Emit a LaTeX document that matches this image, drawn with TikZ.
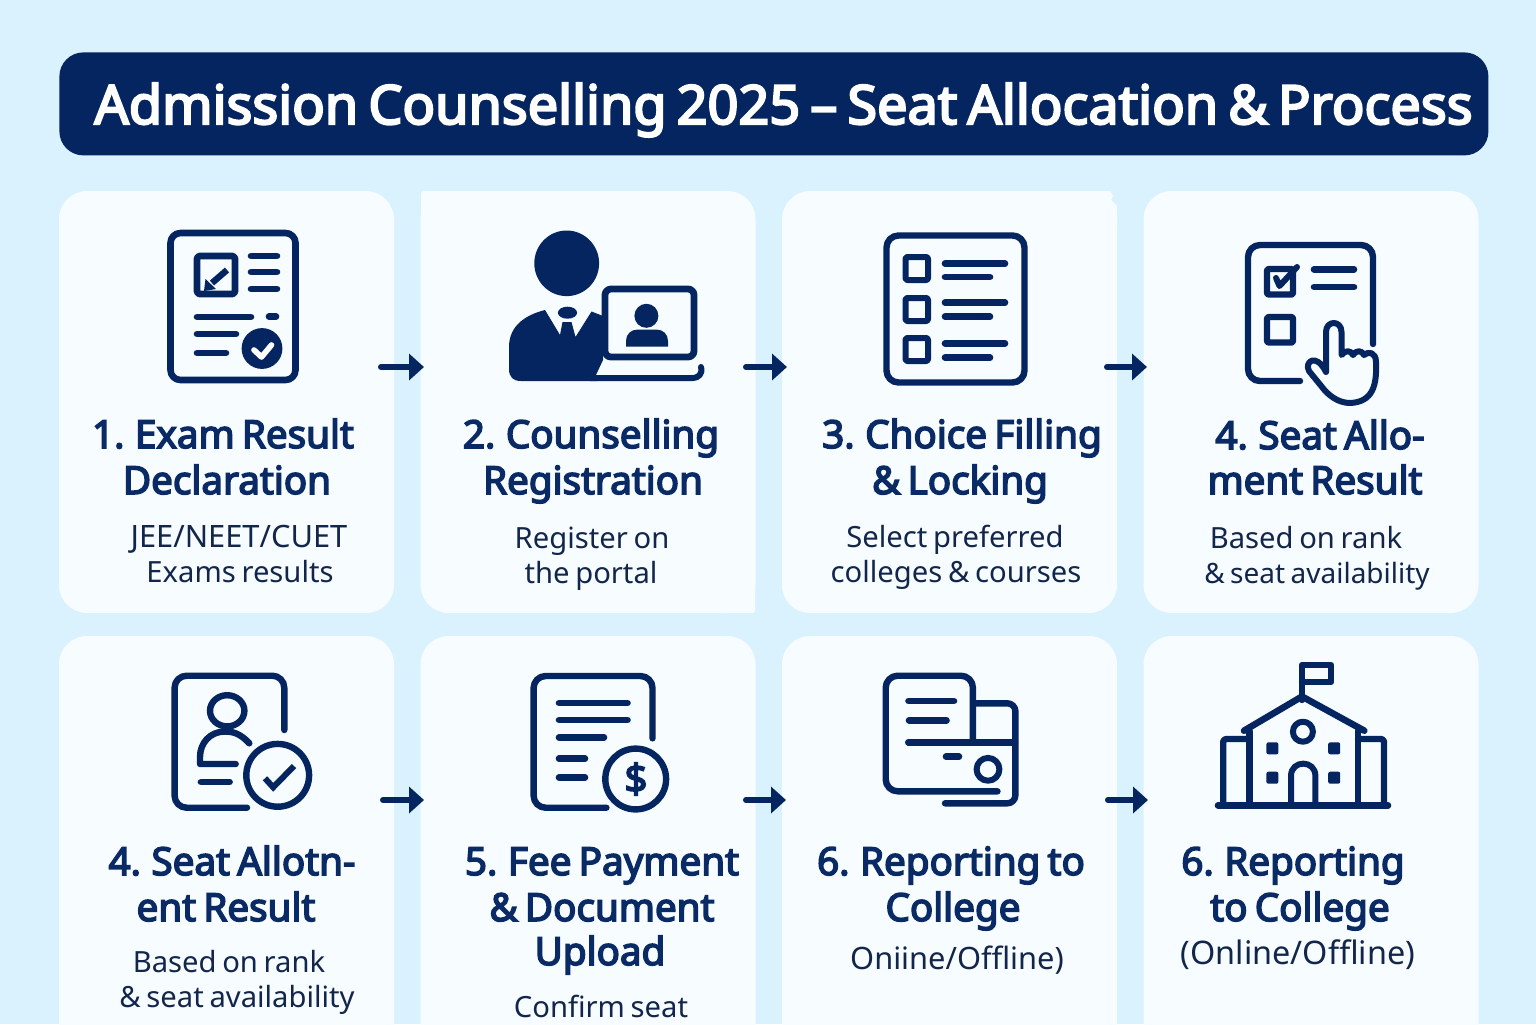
\documentclass[tikz,border=0pt]{standalone}
\usepackage{fontspec}
\setmainfont[WordSpace=0.75]{Noto Sans}
\newfontfamily\hfont[FakeBold=4,WordSpace=0.72]{Noto Sans}
\usetikzlibrary{arrows.meta,calc}
\definecolor{bgblue}{HTML}{D9F2FE}
\definecolor{cardw}{HTML}{F6FCFF}
\definecolor{navy}{HTML}{04255F}
\definecolor{headc}{HTML}{0A2A65}
\definecolor{descc}{HTML}{12254A}
\newcommand{\hsz}{\fontsize{19.3}{22}\selectfont}
\tikzset{
  x=0.5pt,y=-0.5pt,
  card/.style={fill=cardw,rounded corners=14pt,minimum width=167.5pt,inner sep=0pt,outer sep=0pt},
  ic/.style={draw=navy,line width=3.2pt,line cap=round,line join=round,rounded corners=0pt},
  bar/.style={draw=navy,line width=3.3pt,line cap=round},
  flow/.style={draw=navy,line width=3pt,line cap=round,-{Triangle[length=7.5pt,width=13pt]}},
  hd/.style={text=headc,anchor=base,inner sep=0pt,font=\hfont\hsz},
  ds/.style={text=descc,anchor=base,inner sep=0pt,font=\fontsize{#1}{18}\selectfont},
  ds/.default=14.6,
}
\begin{document}
\begin{tikzpicture}
\useasboundingbox (0,0) rectangle (1536,1024);
\clip (0,0) rectangle (1536,1024);
\fill[bgblue] (0,0) rectangle (1536,1024);
% title
\node[fill=navy,rounded corners=12pt,minimum width=714.5pt,minimum height=51.5pt,inner sep=0pt,anchor=north west] (titlebar) at (59,52) {};
\node[anchor=base,text=white,inner sep=0pt,font=\hfont\fontsize{27}{30}\selectfont] (title) at (783.5,124) {Admission Counselling 2025 – Seat Allocation \& Process};
% cards
\foreach \n/\cx in {1/226.5,2/588,3/949.5,4/1311}{
  \node[card,minimum height=211pt] (card\n) at (\cx,402) {};
}
\foreach \n/\cx in {5/226.5,6/588,7/949.5,8/1311}{
  \node[card,minimum height=280pt,anchor=north] (card\n) at (\cx,636) {};
}
\fill[cardw] (421,193) -- (423,191) -- (450,191) -- (450,220) -- (421,220) -- cycle;
\fill[cardw] (755,585) -- (755,611) -- (753,613) -- (725,613) -- (725,585) -- cycle;
\fill[cardw] (1090,191) -- (1110,191) -- (1113,196) -- (1111,200) -- (1117,206) -- (1117,225) -- (1090,225) -- cycle;
% arrows
\coordinate (a1s) at (381,367); \coordinate (a1e) at (424,367);
\coordinate (a2s) at (746,367); \coordinate (a2e) at (787,367);
\coordinate (a3s) at (1107,367); \coordinate (a3e) at (1147,367);
\coordinate (a4s) at (383,800); \coordinate (a4e) at (424,800);
\coordinate (a5s) at (746,800); \coordinate (a5e) at (786,800);
\coordinate (a6s) at (1108,800); \coordinate (a6e) at (1148,800);
\foreach \k in {1,...,6}{\draw[flow] (a\k s) -- (a\k e);}
%% icon 1
\draw[ic,line width=3.3pt,rounded corners=5pt] (170.5,233) rectangle (295.5,380);
\draw[ic,line width=3.4pt,rounded corners=1.5pt] (197,256) rectangle (235,294);
\draw[draw=navy,line width=3.2pt] (227,270) -- (212,283);
\fill[navy] (204,291) -- (205.5,279) -- (216,289) -- cycle;
\draw[bar] (251,256) -- (277,256) (251,272) -- (277,272) (251,289) -- (277,289);
\draw[bar] (197,317) -- (251,317) (269,316.5) -- (276,316.5);
\draw[bar] (197,334) -- (236,334) (197,353) -- (226,353);
\fill[navy] (262,348.5) circle (10.2pt);
\draw[draw=white,line width=2.8pt,line cap=round,line join=round] (254,350) -- (261.5,357) -- (271.5,345);
%% icon 2
\fill[navy] (566.7,263.3) ellipse (16.2pt and 16.4pt);
\fill[navy] (545,310) -- (560,335) -- (562.5,322) -- (571.5,322) -- (575.5,337) -- (591.5,311.5) -- (603,316) -- (603,360) -- (595.5,376) -- (597,381) -- (521,381)
  .. controls (513,381) and (509,377) .. (509,369) -- (509,347)
  .. controls (509,326) and (525,315) .. (545,310) -- cycle;
\fill[navy] (567.5,312.7) ellipse (4.8pt and 3pt);
\draw[ic,fill=cardw,rounded corners=3pt,line width=3.4pt] (605,289) rectangle (694,357);
\draw[ic,line width=3pt] (590,378) -- (693,378) .. controls (698,378) and (703,374) .. (701,367);
\fill[navy] (646.4,315.8) ellipse (6pt and 6pt);
\fill[navy] (626,346.7) -- (626,341) .. controls (626,334) and (631,329.5) .. (638,329.5) -- (656,329.5) .. controls (663,329.5) and (668,334) .. (668,341) -- (668,346.7) -- cycle;
%% icon 3
\draw[ic,rounded corners=6pt] (886.5,235.5) rectangle (1024.5,382.5);
\foreach \yy in {257,298,338}{
  \draw[ic,line width=3pt,rounded corners=1pt] (905.5,\yy) rectangle (928,\yy+23);
}
\draw[bar] (945,263.7) -- (1005,263.7) (945,277) -- (990,277) (945,302.7) -- (1005,302.7) (945,316.7) -- (990,316.7) (945,343.3) -- (1005,343.3) (945,357.7) -- (990,357.7);
%% icon 4
\draw[ic,rounded corners=6pt] (1373,344) -- (1373,245) -- (1248,245) -- (1248,381) -- (1300,381);
\draw[ic,rounded corners=1pt] (1267,269) rectangle (1293,294.5);
\draw[navy,line width=3pt,line cap=round,line join=round] (1276,278) -- (1279.5,286) -- (1297,267);
\draw[bar] (1314,269.3) -- (1354,269.3) (1314,287) -- (1354,287);
\draw[ic,rounded corners=1pt] (1267,317) rectangle (1293,342.5);
\draw[ic,line width=3pt,fill=cardw] (1326,372) -- (1326,332) .. controls (1326,320) and (1341.5,320) .. (1341.5,332) -- (1341.5,355)
  .. controls (1345,350) and (1351,350) .. (1353,355) .. controls (1356,350) and (1362,350) .. (1364,355) .. controls (1368,351) and (1376,352) .. (1376,362)
  .. controls (1377,385) and (1373,402) .. (1350,403) .. controls (1338,403) and (1328,395) .. (1322,387)
  -- (1309,371) .. controls (1304,362) and (1316,352) .. (1326,372);
%% icon 5
\draw[ic,rounded corners=6pt] (284.3,730) -- (284.3,675.7) -- (174.6,675.7) -- (174.6,807.7) -- (247,807.7);
\draw[ic] (227.2,710.8) ellipse (8.6pt and 7.8pt);
\draw[ic] (249.3,743.3) .. controls (240,733) and (232,731.5) .. (225,731.5) .. controls (210,731.5) and (200,743) .. (200,757) -- (200,764) -- (235.7,764);
\draw[bar,line width=3.4pt] (201,782) -- (229.5,782);
\draw[ic,fill=cardw] (277.7,775.3) circle (15.7pt);
\draw[draw=navy,line width=3pt,line join=miter] (265,778.3) -- (273.2,787.3) -- (294,766);
%% icon 6
\draw[ic,rounded corners=6pt] (652.5,738.3) -- (652.5,676) -- (533.6,676) -- (533.6,807.7) -- (606.4,807.7);
\draw[bar] (559,703) -- (627.5,703) (559,720) -- (627.5,720) (559,737.3) -- (604,737.3) (559,758.7) -- (585,758.7) (559,777.3) -- (585,777.3);
\draw[ic,fill=cardw] (635.7,779) circle (15.2pt);
\node[text=navy,inner sep=0pt,font=\hfont\fontsize{20}{20}\selectfont] (dollar) at (636,779) {\$};
%% icon 7
\draw[ic,rounded corners=6pt] (972.9,740) -- (972.9,675.7) -- (885.7,675.7) -- (885.7,791.3) -- (997.5,791.3);
\draw[bar] (908.5,701) -- (954,701) (909,720.3) -- (946.5,720.3);
\draw[ic,rounded corners=4pt] (976,703.3) -- (1015.4,703.3) -- (1015.4,803.3) -- (945,803.3);
\draw[ic] (908.2,742.3) -- (1015,742.3);
\draw[bar] (946,756.7) -- (959,756.7);
\draw[ic,line width=3pt] (988,769.3) circle (5.7pt);
%% icon 8
\draw[ic] (1302,700) -- (1302,665) -- (1331,665) -- (1331,682) -- (1302,682);
\draw[ic,line width=3.3pt] (1244,730.7) -- (1302,696.5) -- (1364.3,730.7);
\draw[ic] (1249.3,731) -- (1249.3,805) (1358,731) -- (1358,805);
\draw[ic,line join=round,rounded corners=1.5pt] (1223.2,805) -- (1223.2,739) -- (1249.3,739);
\draw[ic,rounded corners=1.5pt] (1358,739) -- (1384,739) -- (1384,805);
\draw[ic,line width=3pt] (1302.9,731.7) circle (5pt);
\foreach \xx in {1266.4,1328.2}{\foreach \yy in {742.3,771.7}{
  \fill[navy,rounded corners=1pt] (\xx,\yy) rectangle (\xx+12,\yy+12);
}}
\draw[ic,line width=3pt] (1291,805) -- (1291,776) .. controls (1291,759.5) and (1315.4,759.5) .. (1315.4,776) -- (1315.4,805);
\draw[bar] (1218,805.3) -- (1388,805.3);
%% text row 1
\node[hd] (t1a) at (223,448) {1. Exam Result};
\node[hd] (t1b) at (227,494) {Declaration};
\node[ds=15.4] (d1a) at (239,547) {JEE/NEET/CUET};
\node[ds] (d1b) at (240,582) {Exams results};
\node[hd] (t2a) at (591,448) {2. Counselling};
\node[hd] (t2b) at (593,494) {Registration};
\node[ds] (d2a) at (592,548) {Register on};
\node[ds] (d2b) at (591,583) {the portal};
\node[hd] (t3a) at (962,448) {3. Choice Filling};
\node[hd] (t3b) at (960,494) {\& Locking};
\node[ds] (d3a) at (955,547) {Select preferred};
\node[ds] (d3b) at (956,582) {colleges \& courses};
\node[hd] (t4a) at (1320,449) {4. Seat Allo-};
\node[hd] (t4b) at (1315,494) {ment Result};
\node[ds] (d4a) at (1306,548) {Based on rank};
\node[ds=14] (d4b) at (1317,583) {\& seat availability};
%% text row 2
\node[hd] (t5a) at (232,875) {4. Seat Allotn-};
\node[hd] (t5b) at (226,921) {ent Result};
\node[ds] (d5a) at (229,972) {Based on rank};
\node[ds] (d5b) at (237,1007) {\& seat availability};
\node[hd] (t6a) at (602,875) {5. Fee Payment};
\node[hd] (t6b) at (602,921) {\& Document};
\node[hd] (t6c) at (600,965) {Upload};
\node[ds] (d6a) at (601,1017) {Confirm seat};
\node[hd] (t7a) at (951,875) {6. Reporting to};
\node[hd] (t7b) at (953,921) {College};
\node[ds=15.4] (d7a) at (957,969) {Oniine/Offline)};
\node[hd] (t8a) at (1293,875) {6. Reporting};
\node[hd] (t8b) at (1300,921) {to College};
\node[ds=16.2] (d8a) at (1298,964.5) {(Online/Offline)};
\end{tikzpicture}
\end{document}
